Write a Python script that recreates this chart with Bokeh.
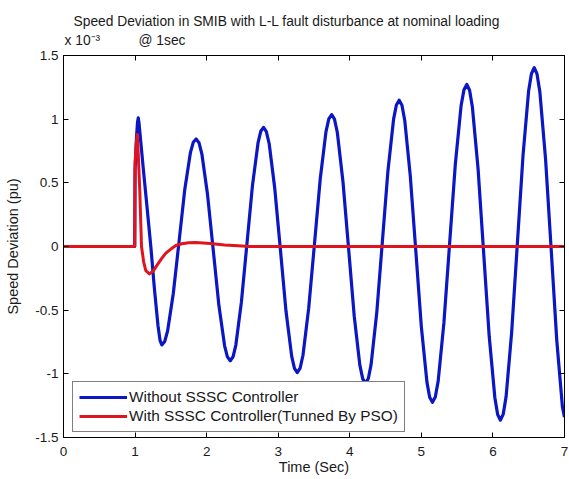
from bokeh.plotting import figure
from bokeh.models import (FixedTicker, LinearAxis, Range1d, Legend, LegendItem, Title,
                          CustomLabelingPolicy)
from bokeh.embed import file_html
from bokeh.resources import INLINE

# ---- data (speed deviation in units of 1e-3 pu) ----
x_ticks = [0, 1, 2, 3, 4, 5, 6, 7]
y_ticks = [-1.5, -1.0, -0.5, 0.0, 0.5, 1.0, 1.5]
y_tick_labels = ["-1.5", "-1", "-0.5", "0", "0.5", "1", "1.5"]

t_without = [0.0, 0.995, 1.0, 1.02, 1.035, 1.045, 1.055, 1.08, 1.12, 1.16, 1.22, 1.27, 1.32, 1.35, 1.374,
             1.414, 1.454, 1.534, 1.614, 1.693, 1.773, 1.813, 1.853,
             1.893, 1.933, 2.012, 2.092, 2.171, 2.251, 2.290, 2.330,
             2.369, 2.408, 2.485, 2.563, 2.640, 2.718, 2.756, 2.795,
             2.834, 2.874, 2.952, 3.031, 3.109, 3.188, 3.227, 3.266,
             3.306, 3.346, 3.426, 3.507, 3.587, 3.667, 3.707, 3.747,
             3.786, 3.826, 3.905, 3.984, 4.062, 4.141, 4.181, 4.220,
             4.259, 4.298, 4.377, 4.455, 4.533, 4.612, 4.651, 4.690,
             4.729, 4.768, 4.845, 4.923, 5.000, 5.078, 5.116, 5.155,
             5.195, 5.235, 5.315, 5.395, 5.475, 5.555, 5.595, 5.635,
             5.674, 5.713, 5.792, 5.870, 5.948, 6.027, 6.066, 6.105,
             6.144, 6.184, 6.262, 6.341, 6.420, 6.498, 6.538, 6.577,
             6.616, 6.656, 6.735, 6.814, 6.892, 6.971, 7.000]
dw_without = [0.0, 0.0, 0.6, 0.86, 0.98, 1.01, 0.97, 0.82, 0.58, 0.35, 0.0, -0.33, -0.62, -0.74, -0.773,
              -0.746, -0.665, -0.369, 0.036, 0.441, 0.737, 0.818, 0.845,
              0.815, 0.728, 0.410, -0.026, -0.462, -0.780, -0.867, -0.897,
              -0.866, -0.774, -0.439, 0.020, 0.478, 0.813, 0.905, 0.936,
              0.903, 0.807, 0.455, -0.027, -0.509, -0.861, -0.957, -0.990,
              -0.956, -0.854, -0.484, 0.023, 0.530, 0.900, 1.002, 1.036,
              1.000, 0.895, 0.508, -0.020, -0.547, -0.934, -1.039, -1.075,
              -1.037, -0.926, -0.519, 0.037, 0.593, 1.000, 1.111, 1.149,
              1.109, 0.990, 0.556, -0.038, -0.631, -1.065, -1.184, -1.224,
              -1.182, -1.057, -0.600, 0.024, 0.648, 1.105, 1.230, 1.272,
              1.227, 1.095, 0.613, -0.046, -0.705, -1.187, -1.319, -1.364,
              -1.317, -1.179, -0.672, 0.020, 0.712, 1.219, 1.357, 1.404,
              1.355, 1.213, 0.690, -0.023, -0.737, -1.259, -1.340]

t_with = [0.0, 0.995, 1.0, 1.015, 1.03, 1.045, 1.065, 1.09, 1.12, 1.15, 1.2, 1.25, 1.31, 1.37,
          1.43, 1.5, 1.57, 1.65, 1.75, 1.845, 1.95, 2.05, 2.12, 2.25, 2.44, 2.6, 7.0]
dw_with = [0.0, 0.0, 0.66, 0.80, 0.88, 0.72, 0.45, 0.0, -0.12, -0.19, -0.215, -0.195, -0.144, -0.095,
           -0.052, -0.02, 0.008, 0.022, 0.03, 0.031, 0.028, 0.024, 0.02, 0.012, 0.005, 0.0, 0.0]

title_line1 = "Speed Deviation in SMIB with L-L fault disturbance at nominal loading"
title_line2 = "@ 1sec"
exponent_text = "x 10\u207b\u00b3"
x_label = "Time (Sec)"
y_label = "Speed Deviation (pu)"
legend_labels = ["Without SSSC Controller", "With SSSC Controller(Tunned By PSO)"]

FONT = "Liberation Sans"
TXT = "#1a1a1a"

p = figure(width=569, height=479, output_backend="svg", toolbar_location=None,
           x_range=Range1d(0, 7), y_range=Range1d(-1.5, 1.5),
           min_border_left=63, min_border_right=2, min_border_top=55, min_border_bottom=42)
p.background_fill_color = "white"
p.border_fill_color = "white"
p.outline_line_color = "black"
p.outline_line_width = 1
p.grid.visible = False

xa = p.below[0]
ya = p.left[0]
xa.ticker = FixedTicker(ticks=x_ticks)
ya.ticker = FixedTicker(ticks=y_ticks)
ya.major_label_overrides = {v: s for v, s in zip(y_ticks, y_tick_labels)}
for ax in (xa, ya):
    ax.major_tick_in = 5
    ax.major_tick_out = 0
    ax.minor_tick_in = 0
    ax.minor_tick_out = 0
    ax.axis_line_color = "black"
    ax.major_tick_line_color = "black"
    ax.major_label_text_font = FONT
    ax.major_label_text_font_size = "13.5px"
    ax.major_label_text_color = TXT
    ax.axis_label_text_font = FONT
    ax.axis_label_text_font_size = "14.5px"
    ax.axis_label_text_font_style = "normal"
    ax.axis_label_text_color = TXT
xa.axis_label = x_label
ya.axis_label = y_label
xa.major_label_standoff = 9
xa.axis_label_standoff = 0
ya.major_label_standoff = 5
ya.axis_label_standoff = 11

no_labels = CustomLabelingPolicy(code="return []")
for side, tk in (("above", x_ticks), ("right", y_ticks)):
    ax = LinearAxis(ticker=FixedTicker(ticks=tk), major_label_text_font_size="1px",
                    major_label_policy=no_labels,
                    major_tick_in=5, major_tick_out=0, minor_tick_in=0, minor_tick_out=0,
                    major_label_standoff=0, axis_line_color="black")
    p.add_layout(ax, side)

r1 = p.line(t_without, dw_without, line_color="#0b16c4", line_width=3.2, line_join="round")
r2 = p.line(t_with, dw_with, line_color="#e0141c", line_width=3.0, line_join="round")

legend = Legend(items=[LegendItem(label=legend_labels[0], renderers=[r1]),
                       LegendItem(label=legend_labels[1], renderers=[r2])],
                location=(9, 5), orientation="vertical")
legend.margin = 0
legend.padding = 6
legend.spacing = 1
legend.glyph_width = 48
legend.glyph_height = 18
legend.label_height = 18
legend.label_standoff = 2
legend.label_text_font = FONT
legend.label_text_font_size = "15.4px"
legend.label_text_color = TXT
legend.border_line_color = "black"
legend.border_line_width = 1
legend.background_fill_color = "white"
legend.background_fill_alpha = 1.0
p.add_layout(legend, "center")

row2 = exponent_text + "\u00a0" * 10 + title_line2
p.add_layout(Title(text=row2, align="left", offset=1, standoff=8,
                   text_font=FONT, text_font_size="13.8px", text_font_style="normal",
                   text_color=TXT), "above")
p.add_layout(Title(text=title_line1, align="left", offset=10, standoff=-5,
                   text_font=FONT, text_font_size="13.8px", text_font_style="normal",
                   text_color=TXT), "above")

open("out.html", "w").write(file_html(p, INLINE))
